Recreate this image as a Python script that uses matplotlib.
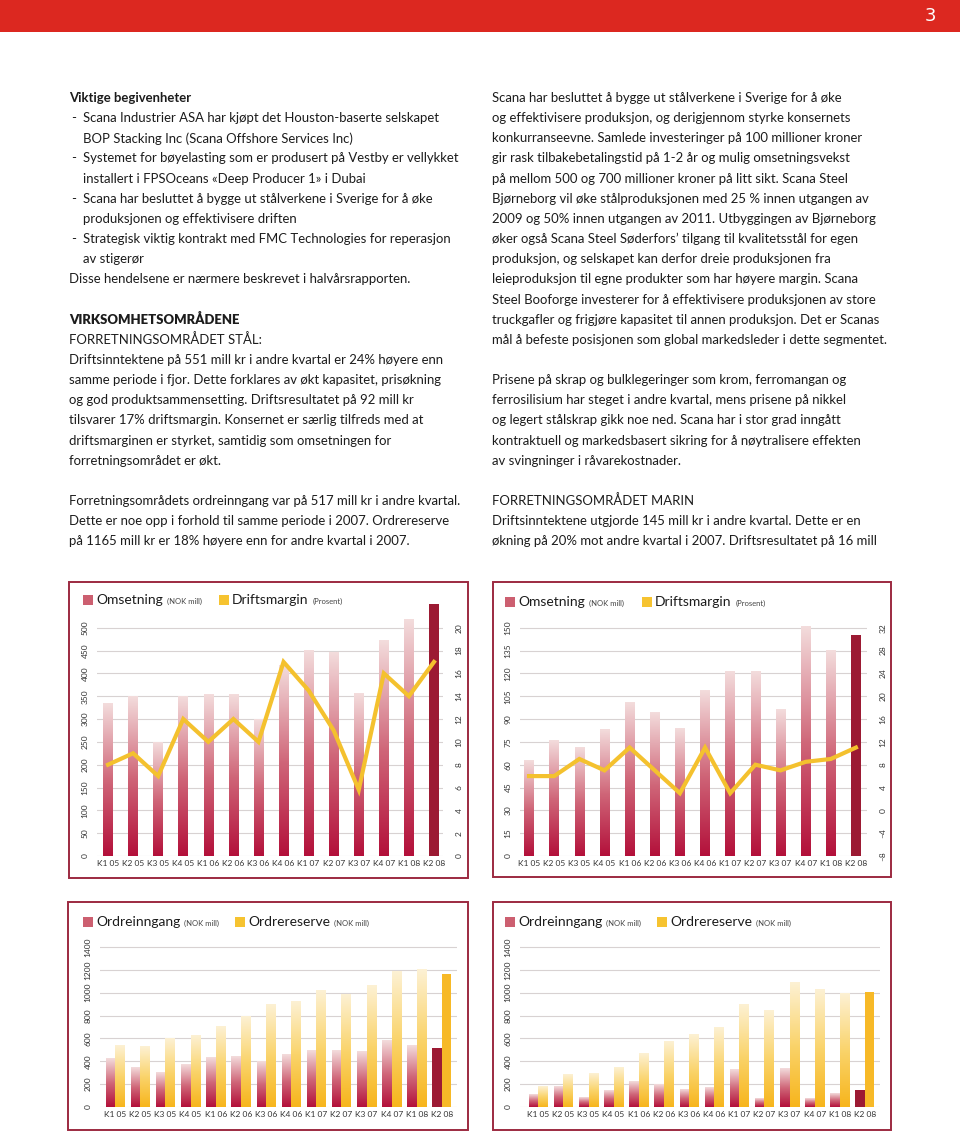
import numpy as np
import matplotlib
matplotlib.use("Agg")
import matplotlib.pyplot as plt
import matplotlib.patches as patches
from matplotlib.colors import LinearSegmentedColormap

W, H = 960, 1134

# ---- data -------------------------------------------------------------
quarters = ["K1 05", "K2 05", "K3 05", "K4 05", "K1 06", "K2 06", "K3 06",
            "K4 06", "K1 07", "K2 07", "K3 07", "K4 07", "K1 08", "K2 08"]

stal_omsetning = [333, 350, 248, 350, 353, 353, 299, 417, 451, 445, 356, 473, 517, 551]
stal_margin = [8, 9, 7, 12, 10, 12, 10, 17, 14.5, 11, 5.8, 16, 14, 17]

marin_omsetning = [63, 76, 71, 83, 101, 94, 84, 109, 121, 121, 96, 151, 135, 145]
marin_margin = [6, 6, 9, 7, 11, 7, 3, 11, 3, 8, 7, 8.5, 9, 11]

stal_ordreinngang = [426, 347, 306, 370, 432, 443, 402, 455, 490, 490, 487, 586, 540, 517]
stal_ordrereserve = [534, 531, 595, 624, 700, 796, 901, 927, 1018, 983, 1064, 1184, 1199, 1165]

marin_ordreinngang = [111, 175, 79, 140, 227, 198, 149, 172, 327, 76, 341, 76, 114, 152]
marin_ordrereserve = [181, 280, 292, 344, 472, 569, 633, 694, 895, 846, 1085, 1024, 997, 1006]

left_text = [
    ("Viktige begivenheter", "bold", False),
    ("Scana Industrier ASA har kjøpt det Houston-baserte selskapet", "normal", True),
    ("BOP Stacking Inc (Scana Offshore Services Inc)", "normal", None),
    ("Systemet for bøyelasting som er produsert på Vestby er vellykket", "normal", True),
    ("installert i FPSOceans «Deep Producer 1» i Dubai", "normal", None),
    ("Scana har besluttet å bygge ut stålverkene i Sverige for å øke", "normal", True),
    ("produksjonen og effektivisere driften", "normal", None),
    ("Strategisk viktig kontrakt med FMC Technologies for reperasjon", "normal", True),
    ("av stigerør", "normal", None),
    ("Disse hendelsene er nærmere beskrevet i halvårsrapporten.", "normal", False),
    ("", "normal", False),
    ("VIRKSOMHETSOMRÅDENE", "heavy", False),
    ("FORRETNINGSOMRÅDET STÅL:", "normal", False),
    ("Driftsinntektene på 551 mill kr i andre kvartal er 24% høyere enn", "normal", False),
    ("samme periode i fjor. Dette forklares av økt kapasitet, prisøkning", "normal", False),
    ("og god produktsammensetting. Driftsresultatet på 92 mill kr", "normal", False),
    ("tilsvarer 17% driftsmargin. Konsernet er særlig tilfreds med at", "normal", False),
    ("driftsmarginen er styrket, samtidig som omsetningen for", "normal", False),
    ("forretningsområdet er økt.", "normal", False),
    ("", "normal", False),
    ("Forretningsområdets ordreinngang var på 517 mill kr i andre kvartal.", "normal", False),
    ("Dette er noe opp i forhold til samme periode i 2007. Ordrereserve", "normal", False),
    ("på 1165 mill kr er 18% høyere enn for andre kvartal i 2007.", "normal", False),
]

right_text = [
    "Scana har besluttet å bygge ut stålverkene i Sverige for å øke",
    "og effektivisere produksjon, og derigjennom styrke konsernets",
    "konkurranseevne. Samlede investeringer på 100 millioner kroner",
    "gir rask tilbakebetalingstid på 1-2 år og mulig omsetningsvekst",
    "på mellom 500 og 700 millioner kroner på litt sikt. Scana Steel",
    "Bjørneborg vil øke stålproduksjonen med 25 % innen utgangen av",
    "2009 og 50% innen utgangen av 2011. Utbyggingen av Bjørneborg",
    "øker også Scana Steel Søderfors’ tilgang til kvalitetsstål for egen",
    "produksjon, og selskapet kan derfor dreie produksjonen fra",
    "leieproduksjon til egne produkter som har høyere margin. Scana",
    "Steel Booforge investerer for å effektivisere produksjonen av store",
    "truckgafler og frigjøre kapasitet til annen produksjon. Det er Scanas",
    "mål å befeste posisjonen som global markedsleder i dette segmentet.",
    "",
    "Prisene på skrap og bulklegeringer som krom, ferromangan og",
    "ferrosilisium har steget i andre kvartal, mens prisene på nikkel",
    "og legert stålskrap gikk noe ned. Scana har i stor grad inngått",
    "kontraktuell og markedsbasert sikring for å nøytralisere effekten",
    "av svingninger i råvarekostnader.",
    "",
    "FORRETNINGSOMRÅDET MARIN",
    "Driftsinntektene utgjorde 145 mill kr i andre kvartal. Dette er en",
    "økning på 20% mot andre kvartal i 2007. Driftsresultatet på 16 mill",
]

# ---- style ------------------------------------------------------------
plt.rcParams['font.family'] = ['Lato', 'DejaVu Sans']
TXT = '#1c1c1c'
RED_DARK = '#9c1a33'
YEL_DARK = '#f7b927'
LINE_YEL = '#f4c12e'
FRAME = '#9c2a40'
GRID = '#d8d2d2'
red_cmap = LinearSegmentedColormap.from_list('r', ['#b3103a', '#d0687a', '#f3dcdc'])
yel_cmap = LinearSegmentedColormap.from_list('y', ['#f7b51c', '#fad46c', '#fdf1d4'])

fig = plt.figure(figsize=(W / 100, H / 100), dpi=100)
renderer = fig.canvas.get_renderer()


def fx(x):
    return x / W


def fy(y):
    return 1 - y / H


def add_ax(left, right, top, bottom):
    return fig.add_axes([fx(left), fy(bottom), (right - left) / W, (bottom - top) / H])


# banner
fig.patches.append(patches.Rectangle((0, fy(32)), 1, 32 / H, transform=fig.transFigure,
                                     facecolor='#dc2820', edgecolor='none'))
fig.text(fx(930), fy(16), "3", color='white', fontsize=13, ha='center', va='center',
         family=['Liberation Sans Narrow', 'DejaVu Sans'])

# body text: fit font size to the measured column width
probe = fig.text(0, 0, right_text[12], fontsize=10)
pw = probe.get_window_extent(renderer).width
probe.remove()
fs = 10 * 398 / pw

step = 20.15
for i, (line, weight, dash) in enumerate(left_text):
    y = 98 + i * step
    if not line:
        continue
    if dash is True:
        fig.text(fx(71), fy(y), "-", fontsize=fs, color=TXT, va='center')
    x = 69 if dash is False else 83
    fig.text(fx(x), fy(y), line, fontsize=fs, color=TXT, va='center',
             fontweight=weight)

for i, line in enumerate(right_text):
    if not line:
        continue
    fig.text(fx(492), fy(98 + i * step), line, fontsize=fs, color=TXT, va='center')


# ---- charts -----------------------------------------------------------
def frame(x0, y0, x1, y1):
    fig.patches.append(patches.Rectangle((fx(x0), fy(y1)), (x1 - x0) / W, (y1 - y0) / H,
                                         transform=fig.transFigure, facecolor='none',
                                         edgecolor=FRAME, linewidth=1.4))


def grad_fill(ax, bars, cmap, last_color):
    g = np.linspace(0, 1, 128).reshape(-1, 1)
    n = len(bars)
    for k, b in enumerate(bars):
        x0, w, h = b.get_x(), b.get_width(), b.get_height()
        if k == n - 1:
            b.set_facecolor(last_color)
            continue
        b.set_facecolor('none')
        ax.imshow(g, extent=[x0, x0 + w, 0, h], origin='lower', aspect='auto',
                  cmap=cmap, zorder=2, interpolation='bilinear')


def style_ax(ax, xlim, ylim, yticks):
    ax.set_xlim(*xlim)
    ax.set_ylim(*ylim)
    ax.set_yticks(yticks)
    ax.set_xticks(range(len(quarters)))
    ax.set_xticklabels(quarters)
    for s in ax.spines.values():
        s.set_visible(False)
    ax.tick_params(axis='both', length=0, labelsize=6, colors='#333333')
    ax.tick_params(axis='x', pad=3)
    ax.tick_params(axis='y', labelrotation=90, pad=6)
    for t in ax.get_yticklabels():
        t.set_va('center')
    ax.yaxis.grid(True, color=GRID, linewidth=0.8)
    ax.set_axisbelow(True)
    ax.patch.set_alpha(0)


def legend_row(y, items):
    for kind, x, label, small in items:
        sq_c = '#cc5f70' if kind == 'r' else '#f6c330'
        fig.patches.append(patches.Rectangle((fx(x), fy(y + 5)), 10 / W, 10 / H,
                                             transform=fig.transFigure,
                                             facecolor=sq_c, edgecolor='none'))
        t = fig.text(fx(x + 13), fy(y), label, fontsize=10, color=TXT, va='center')
        lw = t.get_window_extent(renderer).width
        fig.text(fx(x + 13 + lw + 4), fy(y + 1), small, fontsize=5.5,
                 color='#444444', va='center')


def omsetning_chart(left, right, bottom, px_unit, xlim, ylim, yticks, rlim, rticks,
                    vals, margin):
    top = bottom - (ylim[1] - ylim[0]) * px_unit
    ax = add_ax(left, right, top, bottom)
    x = np.arange(len(quarters))
    bars = ax.bar(x, vals, width=0.38, zorder=2, linewidth=0)
    grad_fill(ax, bars, red_cmap, RED_DARK)
    style_ax(ax, xlim, ylim, yticks)
    ax2 = ax.twinx()
    ax2.plot(x, margin, color=LINE_YEL, linewidth=3.0, solid_joinstyle='miter', zorder=3)
    ax2.set_ylim(*rlim)
    ax2.set_yticks(rticks)
    ax2.set_yticklabels([str(v).replace('-', '\u2013') for v in rticks])
    for s in ax2.spines.values():
        s.set_visible(False)
    ax2.tick_params(axis='y', length=0, labelsize=6, colors='#333333',
                    labelrotation=90, pad=9)
    for t in ax2.get_yticklabels():
        t.set_va('center')
    ax.set_xlim(*xlim)
    return ax


def order_chart(left, right, xlim, inn, res):
    ax = add_ax(left, right, 1107 - 1450 * 160 / 1400, 1107)
    x = np.arange(len(quarters))
    b1 = ax.bar(x - 0.19, inn, width=0.37, zorder=2, linewidth=0)
    b2 = ax.bar(x + 0.19, res, width=0.37, zorder=2, linewidth=0)
    grad_fill(ax, b1, red_cmap, RED_DARK)
    grad_fill(ax, b2, yel_cmap, YEL_DARK)
    style_ax(ax, xlim, (0, 1450), range(0, 1401, 200))
    return ax


# Stål omsetning
frame(69, 582, 468, 878)
omsetning_chart(97, 443, 856, 228.3 / 500, (-0.44, 13.36), (0, 560), range(0, 501, 50),
                (0, 22.4), list(range(0, 21, 2)), stal_omsetning, stal_margin)
legend_row(600, [('r', 83, "Omsetning", "(NOK mill)"),
                 ('y', 219, "Driftsmargin", "(Prosent)")])

# Marin omsetning
frame(493, 582, 891, 877)
omsetning_chart(520, 867, 856, 228.3 / 150, (-0.36, 13.44), (0, 155), range(0, 151, 15),
                (-8, -8 + 155 * 40 / 150), list(range(-8, 33, 4)),
                marin_omsetning, marin_margin)
legend_row(602, [('r', 505, "Omsetning", "(NOK mill)"),
                 ('y', 642, "Driftsmargin", "(Prosent)")])

# Stål ordre
frame(68, 902, 468, 1130)
order_chart(100, 457, (-0.6, 13.6), stal_ordreinngang, stal_ordrereserve)
legend_row(922, [('r', 83, "Ordreinngang", "(NOK mill)"),
                 ('y', 235, "Ordrereserve", "(NOK mill)")])

# Marin ordre
frame(493, 902, 891, 1130)
order_chart(520, 880, (-0.72, 13.6), marin_ordreinngang, marin_ordrereserve)
legend_row(922, [('r', 505, "Ordreinngang", "(NOK mill)"),
                 ('y', 657, "Ordrereserve", "(NOK mill)")])

fig.savefig("out.png", dpi=100)
